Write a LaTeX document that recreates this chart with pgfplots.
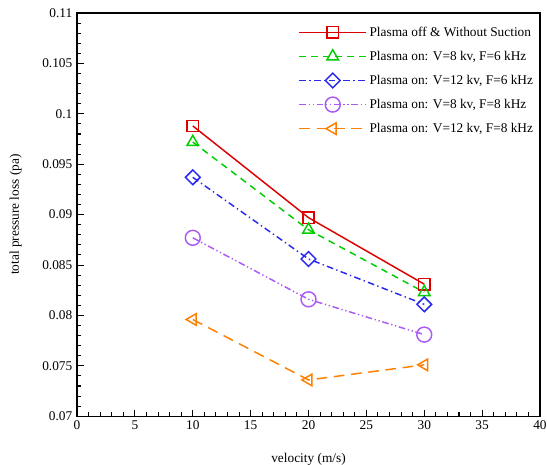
\documentclass[border=0pt]{standalone}
\usepackage{pgfplots}
\pgfplotsset{compat=1.18}
\usepackage{fontspec}
\setmainfont{Liberation Serif}
\definecolor{cred}{RGB}{220,0,0}
\definecolor{cgreen}{RGB}{0,205,0}
\definecolor{cblue}{RGB}{40,40,240}
\definecolor{cpurple}{RGB}{170,90,245}
\definecolor{corange}{RGB}{255,128,0}
\begin{document}
\begin{tikzpicture}
\begin{axis}[
  width=347pt, height=302.25pt, scale only axis,
  xmin=0, xmax=40, ymin=0.07, ymax=0.11,
  xtick={0,5,...,40},
  ytick={0.07,0.075,...,0.1101},
  minor x tick num=4, minor y tick num=4,
  tick pos=left, tick align=inside,
  major tick length=5pt, minor tick length=3pt,
  every tick/.style={black, line width=0.8pt},
  axis line style={line width=1pt},
  /pgf/number format/assume math mode=true,
  yticklabel style={/pgf/number format/fixed, /pgf/number format/precision=3},
  scaled y ticks=false,
  tick label style={font=\fontsize{10}{12}\selectfont},
  every axis x label/.style={at={(axis description cs:0.5,0)}, yshift=-32pt, anchor=center, font=\fontsize{10}{12}\selectfont},
  every axis y label/.style={at={(axis description cs:0,0.5)}, xshift=-46pt, rotate=90, anchor=center, font=\fontsize{10}{12}\selectfont},
  xlabel={velocity (m/s)}, ylabel={total pressure loss (pa)},
  legend style={draw=none, at={(1,1)}, anchor=north east, xshift=-2pt, yshift=-7pt,
    font=\fontsize{10}{12}\selectfont, row sep=5.6pt, inner sep=1pt},
  legend cell align=left,
  legend image code/.code={
    \draw[mark repeat=2,mark phase=2,#1] plot coordinates {(0cm,0cm) (0.88cm,0cm) (1.76cm,0cm)};},
]
\addplot[cred, line width=1.1pt, mark=square, mark size=4.2pt, mark options={solid, line width=1.1pt},
  legend image post style={cred}]
  coordinates {(10,0.0988) (20,0.0897) (30,0.0831)};
\addlegendentry{Plasma off \& Without Suction}
\addplot[cgreen, line width=1.1pt, dash pattern=on 5pt off 4pt, mark=triangle, mark size=5pt, mark options={solid, line width=1.1pt},
  legend image post style={cgreen}]
  coordinates {(10,0.0972) (20,0.0885) (30,0.0823)};
\addlegendentry{Plasma on: V=8 kv, F=6 kHz}
\addplot[cblue, line width=1.1pt, dash pattern=on 5pt off 2.5pt on 1pt off 2.5pt, mark=square, mark size=3.9pt, mark options={solid, line width=1.1pt, rotate=45},
  legend image post style={cblue}]
  coordinates {(10,0.0937) (20,0.0856) (30,0.0811)};
\addlegendentry{Plasma on: V=12 kv, F=6 kHz}
\addplot[cpurple, line width=1.1pt, dash pattern=on 5pt off 2pt on 1pt off 2pt on 1pt off 2pt, mark=o, mark size=5.6pt, mark options={solid, line width=1.1pt},
  legend image post style={cpurple}]
  coordinates {(10,0.0877) (20,0.0816) (30,0.0781)};
\addlegendentry{Plasma on: V=8 kv, F=8 kHz}
\addplot[corange, line width=1.1pt, dash pattern=on 8pt off 5pt, mark=triangle, mark size=5pt, mark options={solid, line width=1.1pt, rotate=90},
  legend image post style={corange}]
  coordinates {(10,0.0796) (20,0.0736) (30,0.0751)};
\addlegendentry{Plasma on: V=12 kv, F=8 kHz}
\end{axis}
\pgfresetboundingbox
\useasboundingbox ([shift={(-57.75pt,-36pt)}]current axis.south west) rectangle ([shift={(5.25pt,9.75pt)}]current axis.north east);
\end{tikzpicture}
\end{document}
